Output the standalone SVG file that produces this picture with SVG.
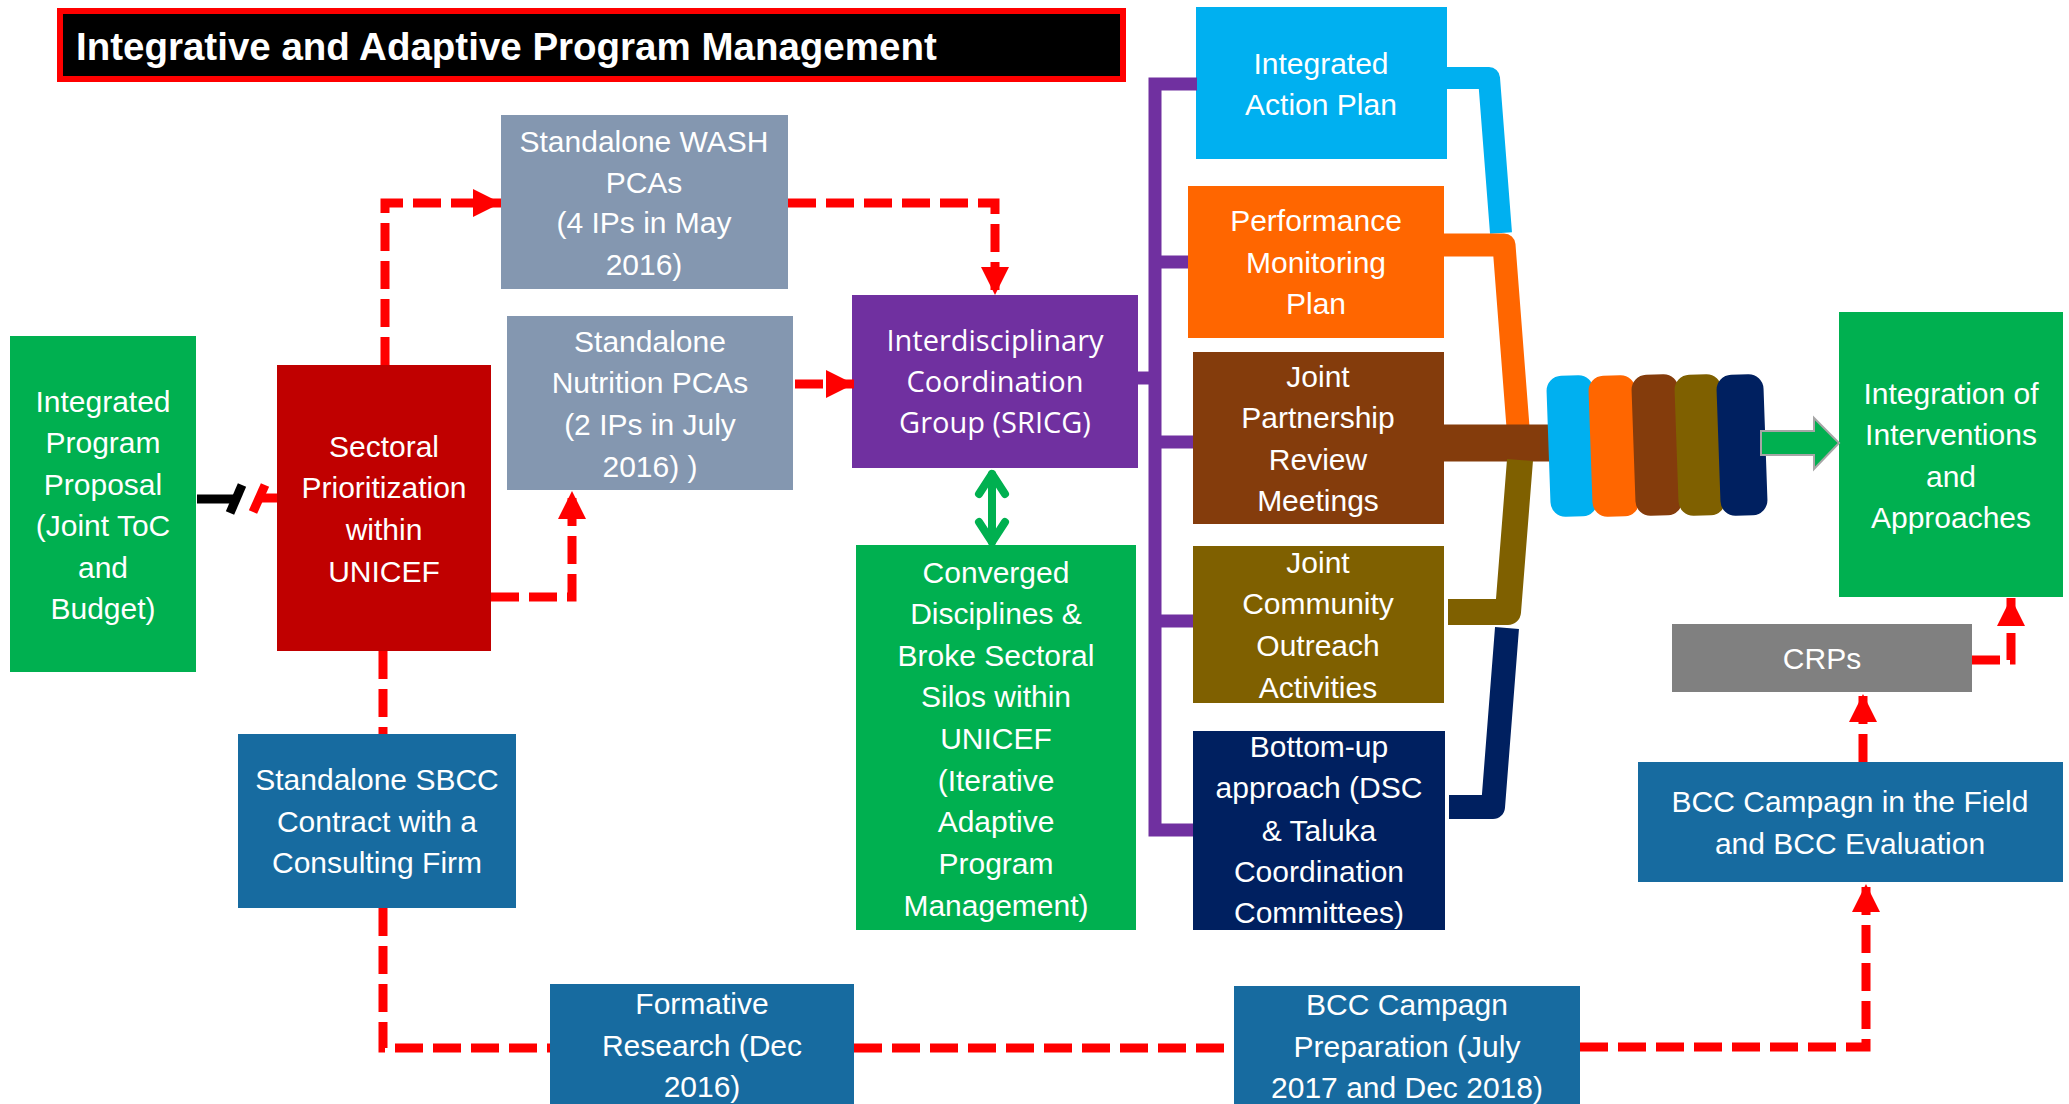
<svg xmlns="http://www.w3.org/2000/svg" width="2069" height="1104" viewBox="0 0 2069 1104">
<style>
.t{font-family:"Liberation Sans",Arial,sans-serif;font-size:30px;fill:#fff;text-anchor:middle}
.o{font-family:"Open Sans","Liberation Sans",sans-serif;font-size:29px;fill:#fff;text-anchor:middle}
.dash{fill:none;stroke:#ff0000;stroke-width:9;stroke-dasharray:28 10}
.pur{fill:none;stroke:#7030a0;stroke-width:13}
</style>
<defs>
<marker id="ar" markerUnits="userSpaceOnUse" markerWidth="28" markerHeight="28" viewBox="0 0 28 28" refX="28" refY="14" orient="auto">
<path d="M0,0 L28,14 L0,28 Z" fill="#ff0000"/>
</marker>
</defs>
<rect width="2069" height="1104" fill="#fff"/>

<g id="title">
<rect x="60" y="11" width="1063" height="68" fill="#000" stroke="#ff0000" stroke-width="6"/>
<text x="76" y="60" style="font-family:'Liberation Sans',Arial,sans-serif;font-size:38.5px;font-weight:bold;fill:#fff">Integrative and Adaptive Program Management</text>
</g>

<g id="proposal">
<rect x="10" y="336" width="186" height="336" fill="#00b050"/>
<text class="t"><tspan x="103" y="412">Integrated</tspan><tspan x="103" y="453">Program</tspan><tspan x="103" y="495">Proposal</tspan><tspan x="103" y="536">(Joint ToC</tspan><tspan x="103" y="578">and</tspan><tspan x="103" y="619">Budget)</tspan></text>
</g>

<g id="sectoral">
<rect x="277" y="365" width="214" height="286" fill="#c00000"/>
<text class="t"><tspan x="384" y="457">Sectoral</tspan><tspan x="384" y="498">Prioritization</tspan><tspan x="384" y="540">within</tspan><tspan x="384" y="582">UNICEF</tspan></text>
</g>

<g id="wash">
<rect x="501" y="115" width="287" height="174" fill="#8497b0"/>
<text class="t"><tspan x="644" y="152">Standalone WASH</tspan><tspan x="644" y="193">PCAs</tspan><tspan x="644" y="233">(4 IPs in May</tspan><tspan x="644" y="275">2016)</tspan></text>
</g>

<g id="nutrition">
<rect x="507" y="316" width="286" height="174" fill="#8497b0"/>
<text class="t"><tspan x="650" y="352">Standalone</tspan><tspan x="650" y="393">Nutrition PCAs</tspan><tspan x="650" y="435">(2 IPs in July</tspan><tspan x="650" y="477">2016) )</tspan></text>
</g>

<g id="sricg">
<rect x="852" y="295" width="286" height="173" fill="#7030a0"/>
<text class="o"><tspan x="995" y="351">Interdisciplinary</tspan><tspan x="995" y="392">Coordination</tspan><tspan x="995" y="433">Group (SRICG)</tspan></text>
</g>

<g id="converged">
<rect x="856" y="545" width="280" height="385" fill="#00b050"/>
<text class="t"><tspan x="996" y="583">Converged</tspan><tspan x="996" y="624">Disciplines &amp;</tspan><tspan x="996" y="666">Broke Sectoral</tspan><tspan x="996" y="707">Silos within</tspan><tspan x="996" y="749">UNICEF</tspan><tspan x="996" y="791">(Iterative</tspan><tspan x="996" y="832">Adaptive</tspan><tspan x="996" y="874">Program</tspan><tspan x="996" y="916">Management)</tspan></text>
</g>

<g id="sbcc">
<rect x="238" y="734" width="278" height="174" fill="#176ba0"/>
<text class="t"><tspan x="377" y="790">Standalone SBCC</tspan><tspan x="377" y="832">Contract with a</tspan><tspan x="377" y="873">Consulting Firm</tspan></text>
</g>

<g id="formative">
<rect x="550" y="984" width="304" height="125" fill="#176ba0"/>
<text class="t"><tspan x="702" y="1014">Formative</tspan><tspan x="702" y="1056">Research (Dec</tspan><tspan x="702" y="1097">2016)</tspan></text>
</g>

<g id="bccprep">
<rect x="1234" y="986" width="346" height="123" fill="#176ba0"/>
<text class="t"><tspan x="1407" y="1015">BCC Campagn</tspan><tspan x="1407" y="1057">Preparation (July</tspan><tspan x="1407" y="1098">2017 and Dec 2018)</tspan></text>
</g>

<g id="iap">
<rect x="1196" y="7" width="251" height="152" fill="#00b0f0"/>
<text class="t"><tspan x="1321" y="74">Integrated</tspan><tspan x="1321" y="115">Action Plan</tspan></text>
</g>

<g id="pmp">
<rect x="1188" y="186" width="256" height="152" fill="#ff6600"/>
<text class="t"><tspan x="1316" y="231">Performance</tspan><tspan x="1316" y="273">Monitoring</tspan><tspan x="1316" y="314">Plan</tspan></text>
</g>

<g id="jpr">
<rect x="1193" y="352" width="251" height="172" fill="#843c0c"/>
<text class="t"><tspan x="1318" y="387">Joint</tspan><tspan x="1318" y="428">Partnership</tspan><tspan x="1318" y="470">Review</tspan><tspan x="1318" y="511">Meetings</tspan></text>
</g>

<g id="jco">
<rect x="1193" y="546" width="251" height="157" fill="#7f6000"/>
<text class="t"><tspan x="1318" y="573">Joint</tspan><tspan x="1318" y="614">Community</tspan><tspan x="1318" y="656">Outreach</tspan><tspan x="1318" y="698">Activities</tspan></text>
</g>

<g id="bottomup">
<rect x="1193" y="731" width="252" height="199" fill="#002060"/>
<text class="t"><tspan x="1319" y="757">Bottom-up</tspan><tspan x="1319" y="798">approach (DSC</tspan><tspan x="1319" y="841">&amp; Taluka</tspan><tspan x="1319" y="882">Coordination</tspan><tspan x="1319" y="923">Committees)</tspan></text>
</g>

<g id="integration">
<rect x="1839" y="312" width="224" height="285" fill="#00b050"/>
<text class="t"><tspan x="1951" y="404">Integration of</tspan><tspan x="1951" y="445">Interventions</tspan><tspan x="1951" y="487">and</tspan><tspan x="1951" y="528">Approaches</tspan></text>
</g>

<g id="crps">
<rect x="1672" y="624" width="300" height="68" fill="#808080"/>
<text class="t" x="1822" y="669">CRPs</text>
</g>

<g id="bccfield">
<rect x="1638" y="762" width="425" height="120" fill="#176ba0"/>
<text class="t"><tspan x="1850" y="812">BCC Campagn in the Field</tspan><tspan x="1850" y="854">and BCC Evaluation</tspan></text>
</g>

<g id="connectors">
<line x1="197" y1="499" x2="236" y2="499" stroke="#000" stroke-width="9"/>
<line x1="242" y1="485" x2="230" y2="513" stroke="#000" stroke-width="9"/>
<line x1="277" y1="498" x2="258" y2="498" stroke="#ff0000" stroke-width="9"/>
<line x1="265" y1="485" x2="253" y2="512" stroke="#ff0000" stroke-width="9"/>

<path class="dash" d="M385,365 V203 H501" marker-end="url(#ar)"/>
<path class="dash" d="M788,203 H995 V295" marker-end="url(#ar)"/>
<path class="dash" d="M491,597 H572 V491" marker-end="url(#ar)"/>
<path class="dash" d="M795,384 H854" marker-end="url(#ar)"/>
<path class="dash" d="M383,651 V734"/>
<path class="dash" d="M383,908 V1048 H550"/>
<path class="dash" d="M854,1048 H1234"/>
<path class="dash" d="M1580,1047 H1866 V884" marker-end="url(#ar)"/>
<path class="dash" d="M1863,762 V694" marker-end="url(#ar)"/>
<path class="dash" d="M1972,660 H2011 V598" marker-end="url(#ar)"/>

<path class="pur" d="M1197,84 H1155 V830 H1193"/>
<path class="pur" d="M1138,378 H1155"/>
<path class="pur" d="M1155,262 H1188"/>
<path class="pur" d="M1155,442 H1193"/>
<path class="pur" d="M1155,621 H1193"/>

<g fill="none" stroke="#00b050" stroke-width="8" stroke-linecap="round" stroke-linejoin="round">
<line x1="992" y1="474" x2="992" y2="542"/>
<polyline points="979,494 992,474 1005,494"/>
<polyline points="979,522 992,542 1005,522"/>
</g>

<path d="M1447,78 H1489 L1501,233" fill="none" stroke="#00b0f0" stroke-width="22" stroke-linejoin="round"/>
<path d="M1444,245 H1504 L1518,427" fill="none" stroke="#ff6600" stroke-width="23" stroke-linejoin="round"/>
<path d="M1444,443 H1560" fill="none" stroke="#843c0c" stroke-width="37"/>
<path d="M1448,612 H1508 L1520,460" fill="none" stroke="#7f6000" stroke-width="26" stroke-linejoin="round"/>
<path d="M1449,807 H1493 L1507,628" fill="none" stroke="#002060" stroke-width="24" stroke-linejoin="round"/>

<g>
<rect x="-23.5" y="-70.5" width="47" height="141" rx="15" fill="#00b0f0" transform="translate(1572,446) rotate(-2)"/>
<rect x="-23.5" y="-70.5" width="47" height="141" rx="15" fill="#ff6600" transform="translate(1614,446) rotate(-2)"/>
<rect x="-23.5" y="-70.5" width="47" height="141" rx="15" fill="#843c0c" transform="translate(1657,445) rotate(-2)"/>
<rect x="-23.5" y="-70.5" width="47" height="141" rx="15" fill="#7f6000" transform="translate(1700,445) rotate(-2)"/>
<rect x="-23.5" y="-70.5" width="47" height="141" rx="15" fill="#002060" transform="translate(1742,445) rotate(-2)"/>
</g>

<path d="M1761,431 H1814 V418 L1839,443 L1814,469 V455 H1761 Z" fill="#00b050" stroke="#a6a6a6" stroke-width="2"/>
</g>
</svg>
